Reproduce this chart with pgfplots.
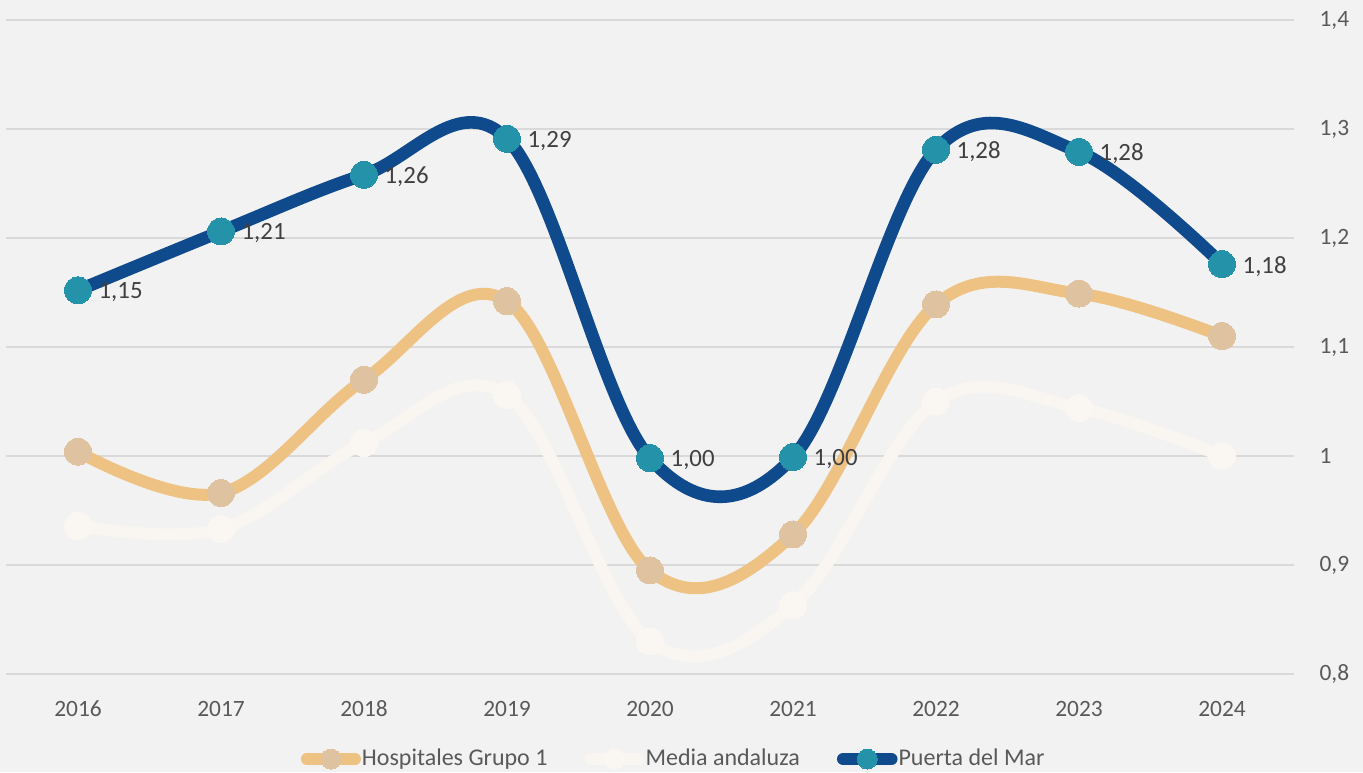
\documentclass[border=0pt]{standalone}
\usepackage{pgfplots}
\pgfplotsset{compat=1.18}
\usepackage{fontspec}
\setmainfont{Carlito}
\definecolor{bgc}{HTML}{F2F2F2}
\definecolor{gridc}{HTML}{D9D9D9}
\definecolor{ticktext}{HTML}{595959}
\definecolor{labtext}{HTML}{404040}
\definecolor{orline}{HTML}{EEC283}
\definecolor{ormark}{HTML}{DFC3A0}
\definecolor{whline}{HTML}{F9F6F1}
\definecolor{whmark}{HTML}{FAF7F3}
\definecolor{nvline}{HTML}{0E4A8C}
\definecolor{nvmark}{HTML}{2492A8}
\begin{document}
\begin{tikzpicture}
\fill[bgc] (-3.25pt,-49pt) rectangle (678.25pt,337pt);
\useasboundingbox (-3.25pt,-49pt) rectangle (678.25pt,337pt);
\begin{axis}[
  at={(0pt,0pt)}, anchor=south west,
  scale only axis, width=643.5pt, height=327pt,
  xmin=2015.5, xmax=2024.5, ymin=0.8, ymax=1.4,
  xtick={2016,2017,2018,2019,2020,2021,2022,2023,2024},
  ytick={0.8,0.9,1,1.1,1.2,1.3,1.4},
  yticklabel pos=right,
  axis line style={draw=none},
  major tick length=0pt,
  ymajorgrids, grid style={gridc, line width=0.8pt},
  /pgf/number format/assume math mode=true,
  /pgf/number format/use comma,
  /pgf/number format/1000 sep={},
  tick label style={font=\fontsize{11.7}{13}\selectfont, text=ticktext},
  yticklabel style={anchor=west, xshift=9.5pt},
  xticklabel style={yshift=-9pt, text height=8.5pt, text depth=2pt},
  legend style={at={(0.518,-0.13)}, anchor=center, draw=none, fill=none,
    legend columns=3, font=\fontsize{12}{14}\selectfont, text=ticktext,
    /tikz/every even column/.append style={column sep=18pt},
    nodes={inner sep=0.5pt}},
  legend image code/.code={\draw[#1, line cap=round, mark size=5pt, mark repeat=2, mark phase=2] plot coordinates {(3pt,0pt) (15pt,0pt) (27pt,0pt)};},
  clip=false,
]
\addplot[orline, line width=6pt, smooth, tension=0.6, mark=*, mark size=6.75pt, mark options={fill=ormark, draw=ormark, line width=0pt}]
  coordinates {(2016,1.004) (2017,0.966) (2018,1.070) (2019,1.142) (2020,0.895) (2021,0.928) (2022,1.139) (2023,1.149) (2024,1.110)};
\addlegendentry{Hospitales Grupo 1}
\addplot[whline, line width=6pt, smooth, tension=0.6, mark=*, mark size=6.75pt, mark options={fill=whmark, draw=whmark, line width=0pt}]
  coordinates {(2016,0.936) (2017,0.933) (2018,1.012) (2019,1.056) (2020,0.830) (2021,0.863) (2022,1.050) (2023,1.044) (2024,1.000)};
\addlegendentry{Media andaluza}
\addplot[nvline, line width=6.3pt, smooth, tension=0.6, mark=*, mark size=6.75pt, mark options={fill=nvmark, draw=nvmark, line width=0pt},
  nodes near coords={\pgfmathprintnumber[fixed,zerofill,precision=2,use comma]{\pgfplotspointmeta}},
  every node near coord/.append style={anchor=west, xshift=7pt, yshift=-1pt, font=\fontsize{12.4}{14}\selectfont, text=labtext}]
  coordinates {(2016,1.152) (2017,1.206) (2018,1.258) (2019,1.291) (2020,0.998) (2021,0.999) (2022,1.281) (2023,1.279) (2024,1.176)};
\addlegendentry{Puerta del Mar}
\end{axis}
\end{tikzpicture}
\end{document}
